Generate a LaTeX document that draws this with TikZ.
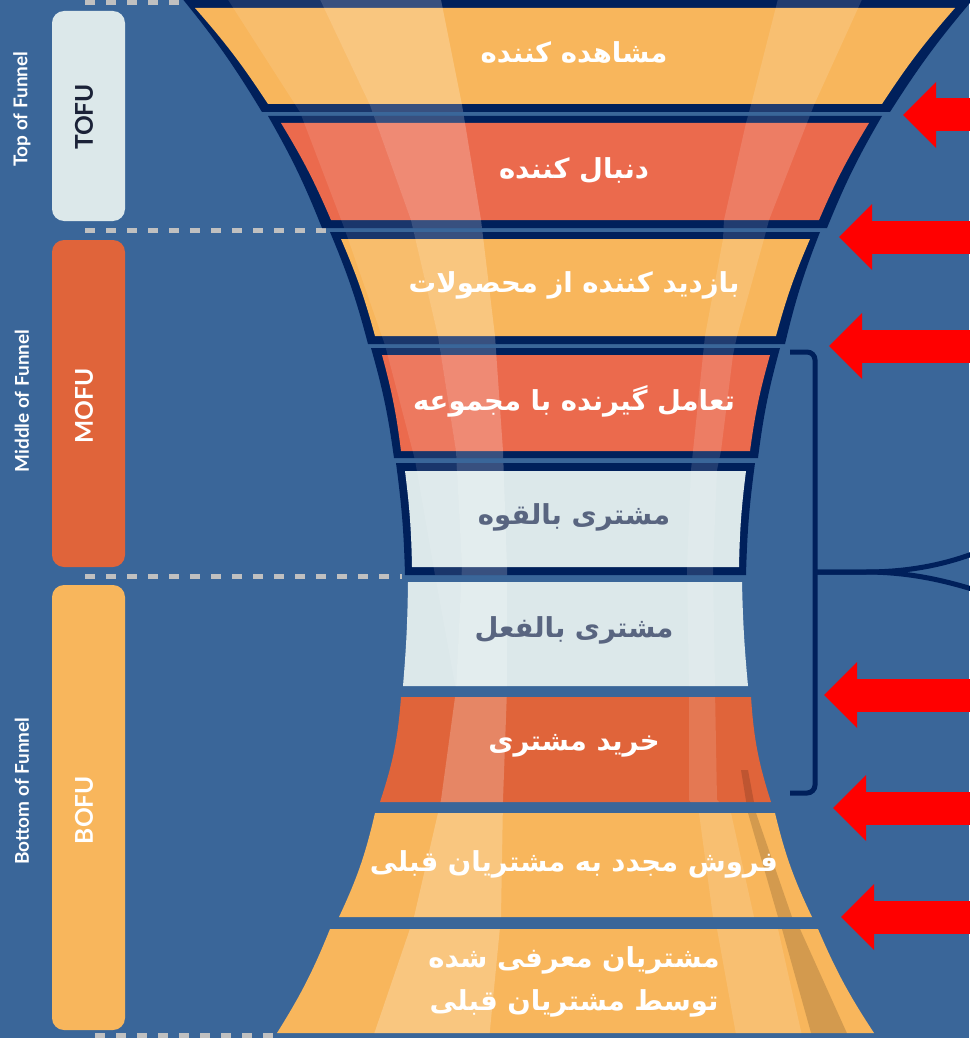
\documentclass[tikz,border=0pt]{standalone}
\usepackage{fontspec}
\setmainfont{Lato}
\newfontfamily\fafont[Script=Arabic]{DejaVu Sans}
\TeXXeTstate=1
\usetikzlibrary{arrows.meta}
\definecolor{sfondo}{HTML}{3A6699}
\definecolor{navy}{HTML}{00205B}
\definecolor{giallo}{HTML}{F8B65C}
\definecolor{rosso}{HTML}{EB6A4D}
\definecolor{arancio}{HTML}{E0643A}
\definecolor{chiaro}{HTML}{DCE8EA}
\definecolor{grigio}{HTML}{C0C0C0}
\definecolor{testo}{HTML}{596580}
\definecolor{scuro}{HTML}{1B2238}
\newcommand{\fa}[1]{{\fafont\bfseries\beginR #1\endR}}
% sagome dell'imbuto
\newcommand{\tA}{(181,-3) -- (975,-3) to[bend right=4] (890,112) -- (262,112) to[bend right=4] cycle}
\newcommand{\tB}{(268,116) -- (882,116) to[bend right=4] (827,228) -- (322,228) to[bend right=4] cycle}
\newcommand{\tC}{(330,232) -- (820,232) to[bend right=4] (785,344) -- (368,344) to[bend right=4] cycle}
\newcommand{\tD}{(371,348) -- (780,348) to[bend right=4] (758,458) -- (394,458) to[bend right=4] cycle}
\newcommand{\tE}{(396,463) -- (755,463) to[bend right=3] (746,575) -- (405,575) to[bend right=3] cycle}
\newcommand{\fF}{(408,582) -- (742,582) to[bend right=2] (748,686) -- (403,686) to[bend right=2] cycle}
\newcommand{\fG}{(401,697) -- (751,697) to[bend right=7] (771,802) -- (380,802) to[bend right=7] cycle}
\newcommand{\fH}{(375,813) -- (775,813) to[bend right=6] (812,917) -- (339,917) to[bend right=6] cycle}
\newcommand{\fI}{(330,929) -- (818,929) to[bend right=5] (874,1033) -- (277,1033) to[bend right=5] cycle}

\begin{document}
\begin{tikzpicture}[x=1pt,y=-1pt,
  fetta/.style={font=\fontsize{27.5}{43}\selectfont, text=white, align=center},
  fascia/.style={rounded corners=12pt, minimum width=73pt, inner sep=0pt},
  sigla/.style={rotate=90, font=\fontsize{24.5}{30}\selectfont\bfseries, text=white},
  fase/.style={rotate=90, font=\fontsize{19}{22}\selectfont\bfseries, text=white},
  sep/.style={grigio, line width=5pt, dash pattern=on 10pt off 11pt},
  freccia/.style={red, line width=33pt, -{Triangle[length=33pt,width=66pt,line width=0pt]}},
  graffa/.style={navy, line width=5pt}]
\useasboundingbox (0,0) rectangle (969,1038);
\fill[sfondo] (0,0) rectangle (969,1038);

% linee tratteggiate
\draw[sep] (85,3) -- (180,3);
\draw[sep] (85,230) -- (330,230);
\draw[sep] (85,576) -- (402,576);
\draw[sep] (95,1035) -- (277,1035);

% colonna a sinistra
\node[fascia, fill=chiaro, minimum height=210pt] (tofu) at (88.5,116) {};
\node[fascia, fill=arancio, minimum height=327pt] (mofu) at (88.5,403.5) {};
\node[fascia, fill=giallo, minimum height=445pt] (bofu) at (88.5,807.5) {};
\node[sigla, text=scuro] (ltofu) at (84,117) {TOFU};
\node[sigla] (lmofu) at (84,406) {MOFU};
\node[sigla] (lbofu) at (84,810) {BOFU};
\node[fase] (ptop) at (22,109) {Top of Funnel};
\node[fase] (pmid) at (22,401) {Middle of Funnel};
\node[fase] (pbot) at (22,791) {Bottom of Funnel};

% imbuto
\fill[navy] \tA; \fill[giallo] (195,8) -- (955,8) to[bend right=4] (882,104) -- (268,104) to[bend right=4] cycle;
\fill[navy] \tB; \fill[rosso] (281,123) -- (869,123) to[bend right=4] (819,220) -- (331,220) to[bend right=4] cycle;
\fill[navy] \tC; \fill[giallo] (341,239) -- (810,239) to[bend right=4] (776,336) -- (375,336) to[bend right=4] cycle;
\fill[navy] \tD; \fill[rosso] (382,355) -- (770,355) to[bend right=4] (750,451) -- (401,451) to[bend right=4] cycle;
\fill[navy] \tE; \fill[chiaro] (405,471) -- (746,471) to[bend right=3] (739,567) -- (412,567) to[bend right=3] cycle;
\fill[chiaro] \fF;
\fill[arancio] \fG;
\fill[giallo] \fH;
\fill[giallo] \fI;

% riflessi
\begin{scope}
\clip \tA \tB \tC \tD \tE \fF \fG \fH \fI;
\fill[white, opacity=.1] (225,-5) -- (300,112) -- (345,230) -- (385,345) -- (415,460) -- (435,575) -- (456,690)
  -- (462,567) -- (456,451) -- (438,336) -- (411,220) -- (370,105) -- (318,-5) -- cycle;
\fill[white, opacity=.22] (318,-5) -- (370,105) -- (411,220) -- (438,336) -- (456,451) -- (462,567) -- (456,690)
  -- (441,800) -- (414,917) -- (372,1040) -- (489,1040) -- (501,917) -- (503,800) -- (507,690) -- (507,567)
  -- (503,451) -- (495,336) -- (481,220) -- (462,105) -- (440,-5) -- cycle;
\fill[white, opacity=.13] (779,-5) -- (751,105) -- (746,123) -- (724,220) -- (723,239) -- (705,336) -- (703,355)
  -- (693,451) -- (691,470) -- (687,567) -- (689,690) -- (689,800) -- (699,813) -- (713,917) -- (717,929)
  -- (737,1040) -- (803,1040) -- (778,929) -- (754,917) -- (731,813) -- (717,800) -- (715,690) -- (713,567)
  -- (717,470) -- (721,451) -- (733,355) -- (737,336) -- (764,239) -- (769,220) -- (807,123) -- (814,105)
  -- (864,-5) -- cycle;
\fill[black, opacity=.15] (741,770) -- (748,813) -- (778,917) -- (782,929) -- (813,1040) -- (850,1040)
  -- (800,929) -- (792,917) -- (756,813) -- (748,770) -- cycle;
\end{scope}

% testi
\node[fetta] (s1) at (574,53) {\fa{مشاهده کننده}};
\node[fetta] (s2) at (574,171) {\fa{دنبال کننده}};
\node[fetta] (s3) at (574,285) {\fa{بازدید کننده از محصولات}};
\node[fetta] (s4) at (574,401) {\fa{تعامل گیرنده با مجموعه}};
\node[fetta, text=testo] (s5) at (574,517) {\fa{مشتری بالقوه}};
\node[fetta, text=testo] (s6) at (574,630) {\fa{مشتری بالفعل}};
\node[fetta] (s7) at (574,746) {\fa{خرید مشتری}};
\node[fetta] (s8) at (574,864) {\fa{فروش مجدد به مشتریان قبلی}};
\node[fetta] (s9) at (574,982) {\fa{مشتریان معرفی شده}\\\fa{توسط مشتریان قبلی}};

% graffa
\draw[graffa, rounded corners=8pt] (790,352) -- (815,352) -- (815,793) -- (790,793);
\coordinate (punta) at (815,572);
\coordinate (g1) at (975,553);
\coordinate (g2) at (975,590);
\draw[graffa] (punta) -- (865,572) .. controls (905,572) and (940,566) .. (g1);
\draw[graffa] (punta) -- (865,572) .. controls (905,572) and (940,579) .. (g2);

% frecce
\foreach \y/\x [count=\i] in {115/903, 237/839, 346/829, 695/824, 808/833, 917/841} {
  \coordinate (f\i) at (\x,\y);
  \coordinate (b\i) at (975,\y);
  \draw[freccia] (b\i) -- (f\i);
}
\end{tikzpicture}
\end{document}
